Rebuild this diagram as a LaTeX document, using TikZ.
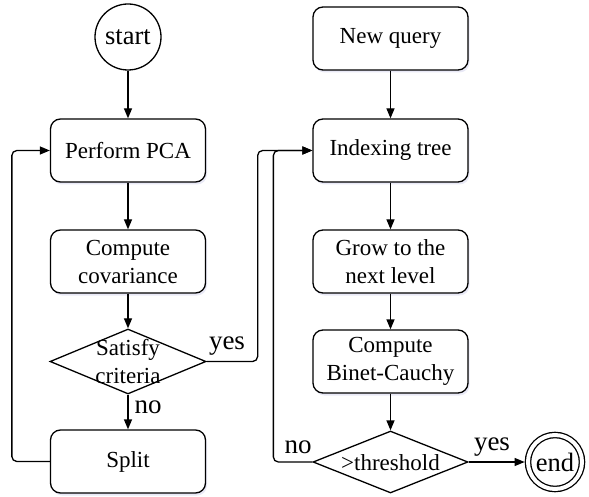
\documentclass[tikz,border=0pt]{standalone}
\usepackage{fontspec}
\setmainfont{Liberation Serif}
\usetikzlibrary{shapes.geometric,arrows.meta,shadows}
\begin{document}
\begin{tikzpicture}[x=1pt,y=-1pt,
  every node/.style={font=\fontsize{23}{28}\selectfont},
  procbox/.style={draw, line width=1.3pt, rounded corners=10pt, minimum width=155pt, minimum height=63pt, inner sep=0pt, align=center, fill=white,
    drop shadow={shadow xshift=1.5pt, shadow yshift=-2.5pt, opacity=0.12, fill=blue!40!gray}},
  decision/.style={draw, line width=1.3pt, diamond, inner sep=0pt, fill=white},
  termcirc/.style={draw, line width=1.3pt, circle, inner sep=0pt, fill=white, font=\fontsize{26.5}{30}\selectfont},
  flow/.style={line width=1.3pt, -{Triangle[length=10pt,width=8pt]}},
  lbl/.style={font=\fontsize{27}{30}\selectfont, inner sep=0pt}
]
\useasboundingbox (0,0) rectangle (589,497);

\node[termcirc, minimum size=66pt] (start) at (128,37) {start};
\node[procbox] (pca) at (128,150.5) {Perform PCA};
\node[procbox] (cov) at (128,261.5) {Compute\\covariance};
\node[decision, minimum width=156pt, minimum height=65pt] (sat) at (128,361.5) {};
\node[align=center, inner sep=0pt] (sattext) at (128,361.5) {Satisfy\\criteria};
\node[procbox] (split) at (128,461.5) {Split};

\node[procbox] (nq) at (390.5,38.5) {New query};
\node[procbox] (idx) at (390.5,150.5) {Indexing tree};
\node[procbox] (grow) at (390.5,261.5) {Grow to the\\next level};
\node[procbox] (bc) at (390.5,361.5) {Compute\\Binet-Cauchy};
\node[decision, minimum width=155pt, minimum height=62pt] (thr) at (390.5,462) {};
\node[inner sep=0pt] (thrtext) at (390.5,463) {>threshold};
\node[termcirc, minimum size=54pt, double, double distance=4pt, outer sep=3.4pt] (end) at (555,462) {end};

\draw[flow] (start) -- (pca);
\draw[flow] (pca) -- (cov);
\draw[flow] (cov) -- (sat);
\draw[flow] (sat) -- (split);
\draw[flow] (nq) -- (idx);
\draw[flow] (idx) -- (grow);
\draw[flow] (grow) -- (bc);
\draw[flow] (bc) -- (thr);
\draw[flow] (thr) -- (end);

\draw[flow, rounded corners=5pt] (split.west) -- ++(-38,0) |- (pca.west);
\draw[flow, rounded corners=5pt] (sat.east) -- ++(51,0) |- (idx.west);
\draw[flow, rounded corners=5pt] (thr.west) -- ++(-39,0) |- (idx.west);

\node[lbl] (yes1) at (227,346) {yes};
\node[lbl] (no1) at (148,407) {no};
\node[lbl] (no2) at (298,447) {no};
\node[lbl] (yes2) at (492,447) {yes};
\end{tikzpicture}
\end{document}
